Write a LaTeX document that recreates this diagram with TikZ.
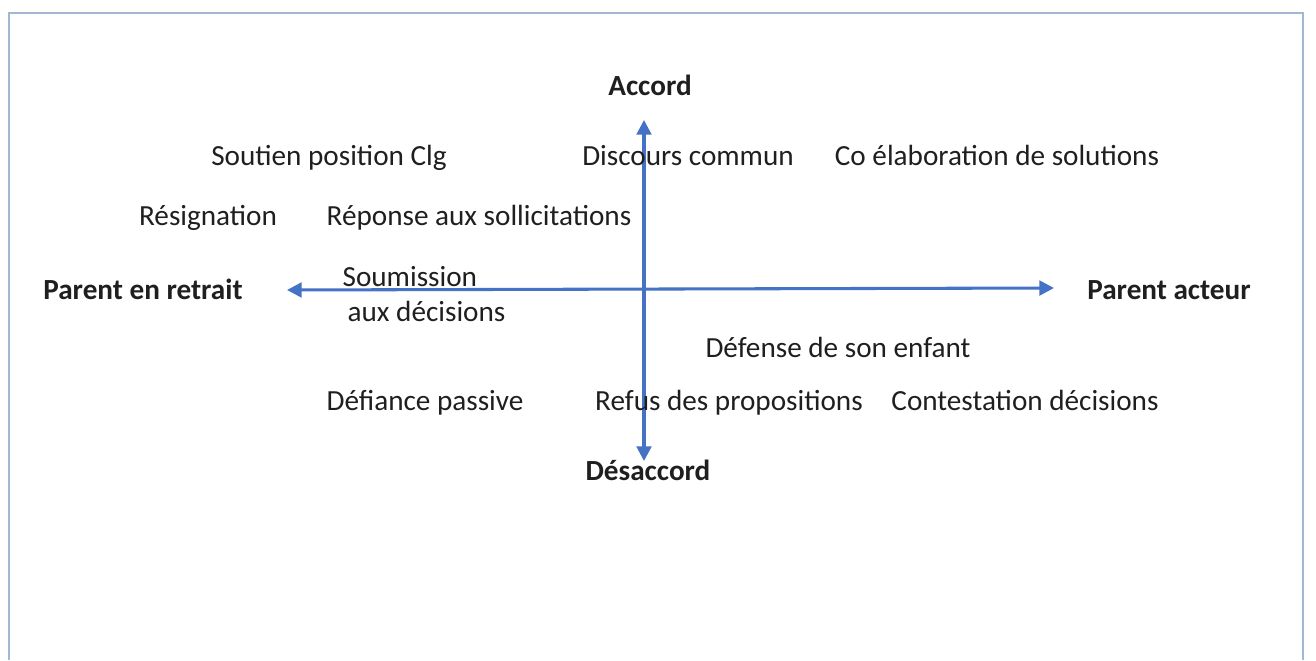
\documentclass[tikz,border=0pt]{standalone}
\usepackage{fontspec}
\setmainfont{Carlito}
\usetikzlibrary{graphs}
\usetikzlibrary{arrows.meta}
\definecolor{axebleu}{RGB}{68,114,196}
\definecolor{cadre}{RGB}{160,184,208}
\tikzstyle{texte} = [text=black!88, font=\fontsize{21.9}{26.25}\selectfont, inner sep=0pt, anchor=base]
\tikzstyle{pole} = [texte, font=\fontsize{21.9}{26.25}\selectfont\bfseries]
\tikzstyle{axe} = [axebleu, line width=2.3pt, {Triangle[length=11pt, width=11pt]}-{Triangle[length=11pt, width=11pt]}]

\begin{document}
\begin{tikzpicture}[x=0.75pt, y=-0.75pt]
        \useasboundingbox (0,0) rectangle (1316,660);
        \draw[cadre, line width=1.5pt] (9,660) -- (9,13) -- (1303,13) -- (1303,660);

        % poles
        \node[pole](accord) at (650,95){Accord};
        \node[pole](desaccord) at (648,480){Désaccord};
        \node[pole](retrait) at (143,299){Parent en retrait};
        \node[pole](acteur) at (1169,299){Parent acteur};

        % axes
        \coordinate (haut) at (644,120);
        \coordinate (bas) at (644,461);
        \coordinate (gauche) at (287,290);
        \coordinate (droite) at (1054,288);

        \graph {
            (gauche) <->[axe] (droite);
            (haut) <->[axe] (bas);
        };

        % postures
        \node[texte](soutien) at (329,165){Soutien position Clg};
        \node[texte](discours) at (688,165){Discours commun};
        \node[texte](coelab) at (997,165){Co élaboration de solutions};
        \node[texte](resignation) at (208,225){Résignation};
        \node[texte](reponse) at (479,225){Réponse aux sollicitations};
        \node[texte, anchor=center, align=left](soumission) at (424,294){Soumission\\\hspace{3.75pt}aux décisions};
        \node[texte](defense) at (838,357){Défense de son enfant};
        \node[texte](defiance) at (425,410){Défiance passive};
        \node[texte](refus) at (729,410){Refus des propositions};
        \node[texte](contestation) at (1025,410){Contestation décisions};
    \end{tikzpicture}
\end{document}
